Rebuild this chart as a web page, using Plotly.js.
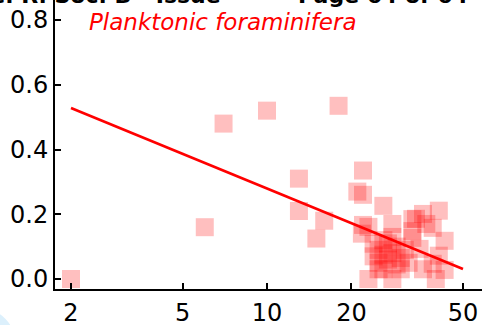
<!DOCTYPE html>
<html><head><meta charset="utf-8">
<script src="https://cdn.plot.ly/plotly-3.0.1.min.js"></script>
<style>html,body{margin:0;padding:0;background:#fff;overflow:hidden}#chart{width:482px;height:325px}</style>
</head><body><div id="chart"></div>
<script>
// Planktonic foraminifera: scatter points (x on log scale)
const pointX = [2, 6, 7, 10, 13, 13, 15, 16, 18,
  22, 21, 22, 26, 21.8, 22, 23, 28, 33, 33,
  41, 36, 34, 37, 39, 43, 33, 35, 24,
  23, 28, 40, 26, 36, 39, 41, 43, 32,
  25, 26, 27, 25, 28, 29, 30, 27, 24, 30, 31, 26, 29, 25, 28];
const pointY = [0.0, 0.16, 0.48, 0.52, 0.31, 0.21, 0.125, 0.18, 0.535,
  0.335, 0.27, 0.26, 0.226, 0.14, 0.167, 0.161, 0.17, 0.185, 0.148,
  0.211, 0.201, 0.186, 0.17, 0.158, 0.118, 0.127, 0.093, 0.109,
  0.0, 0.0, 0.0, 0.03, 0.03, 0.047, 0.072, 0.028, 0.05,
  0.09, 0.075, 0.06, 0.05, 0.08, 0.1, 0.065, 0.11, 0.07, 0.03, 0.09, 0.12, 0.045, 0.03, 0.13];
// Regression line
const fitX = [2, 50];
const fitY = [0.528, 0.031];
// Ticks
const xTickVals = [2, 5, 10, 20, 50];
const xTickText = ['2', '5', '10', '20', '50'];
const yTickVals = [0, 0.2, 0.4, 0.6, 0.8];
const yTickText = ['0.0', '0.2', '0.4', '0.6', '0.8'];
const seriesLabel = 'Planktonic foraminifera';
const headerLeft = 'Proc. R. Soc. B - Issue';
const headerRight = 'Page 64 of 64';

const FONT = 'DejaVu Sans, Liberation Sans, Arial, sans-serif';

const traces = [
  {x: pointX, y: pointY, type: 'scatter', mode: 'markers',
   marker: {symbol: 'square', size: 18, color: 'rgba(255,0,0,0.25)', line: {width: 0}},
   hoverinfo: 'skip', cliponaxis: true},
  {x: fitX, y: fitY, type: 'scatter', mode: 'lines',
   line: {color: '#ff0000', width: 2.6}, hoverinfo: 'skip'}
];

const layout = {
  width: 482, height: 325,
  margin: {l: 55, r: 0, t: 0, b: 36, pad: 0},
  paper_bgcolor: '#ffffff', plot_bgcolor: '#ffffff',
  showlegend: false,
  font: {family: FONT, size: 24, color: '#000'},
  xaxis: {type: 'log', range: [0.24397, 1.7668],
    tickvals: xTickVals, ticktext: xTickText,
    ticks: 'inside', ticklen: 6, tickwidth: 2, tickcolor: '#000',
    showline: true, linewidth: 2, linecolor: '#000',
    showgrid: false, zeroline: false, mirror: false,
    ticklabelstandoff: 1,
    tickfont: {family: FONT, size: 24, color: '#000'}},
  yaxis: {range: [-0.0309, 0.8618],
    tickvals: yTickVals, ticktext: yTickText,
    ticks: 'inside', ticklen: 6, tickwidth: 2, tickcolor: '#000',
    showline: true, linewidth: 2, linecolor: '#000',
    showgrid: false, zeroline: false, mirror: false,
    tickfont: {family: FONT, size: 24, color: '#000'}},
  annotations: [
    {text: seriesLabel, xref: 'paper', yref: 'paper', x: 0.075, y: 0.924,
     xanchor: 'left', yanchor: 'middle', showarrow: false,
     font: {family: FONT, size: 23, color: '#ff0000', style: 'italic'}},
    {text: '<b>' + headerLeft + '</b>', xref: 'paper', yref: 'paper', x: 0.3934, y: 1.0,
     xanchor: 'right', yanchor: 'bottom', yshift: -10, showarrow: false,
     font: {family: FONT, size: 22, color: '#000'}},
    {text: '<b>' + headerRight + '</b>', xref: 'paper', yref: 'paper', x: 0.5644, y: 1.0,
     xanchor: 'left', yanchor: 'bottom', yshift: -10, showarrow: false,
     font: {family: FONT, size: 22, color: '#000'}}
  ],
  shapes: [
    {type: 'circle', xref: 'paper', yref: 'paper', layer: 'below',
     x0: (-51 - 55) / 427, x1: (15 - 55) / 427,
     y0: (289 - 375) / 289, y1: (289 - 309) / 289,
     fillcolor: '#dcf0fc', line: {width: 0}}
  ]
};

Plotly.newPlot('chart', traces, layout, {staticPlot: true, displayModeBar: false});
</script>
</body></html>
